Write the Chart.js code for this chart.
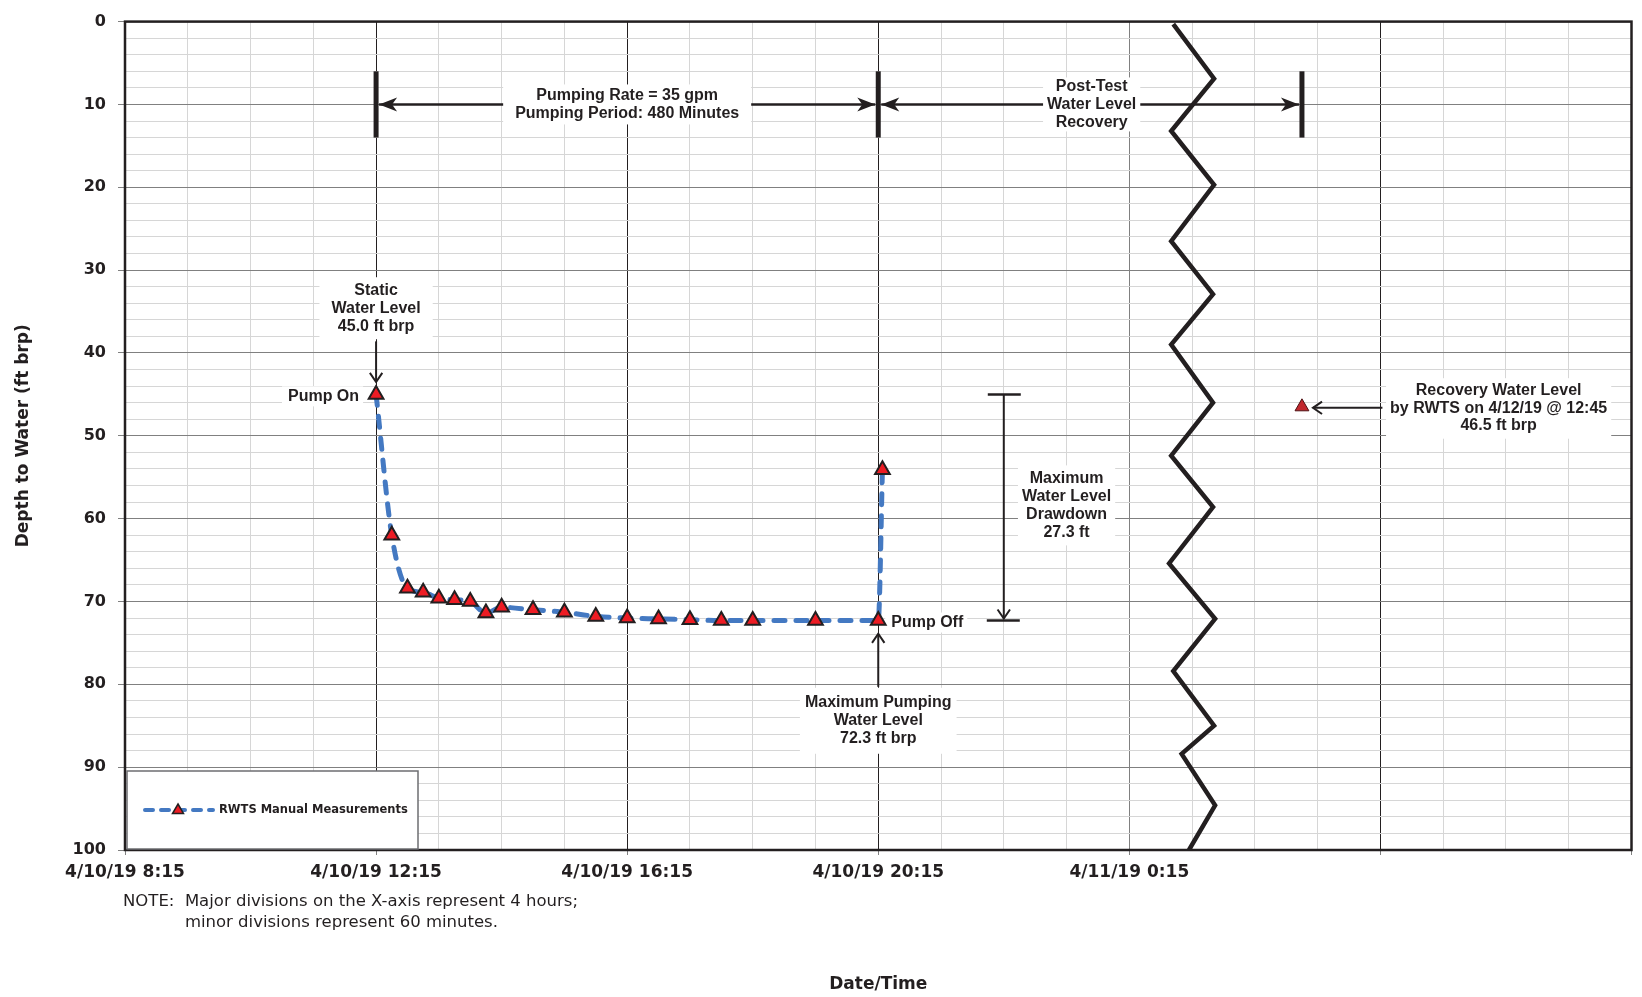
<!DOCTYPE html>
<html>
<head>
<meta charset="utf-8">
<script src="https://cdn.jsdelivr.net/npm/chart.js@4.4.1/dist/chart.umd.min.js"></script>
<style>
  html, body { margin: 0; padding: 0; background: #fff; }
  #wrap { width: 1642px; height: 997px; }
</style>
</head>
<body>
<div id="wrap"><canvas id="chart" width="1642" height="997"></canvas></div>
<script>
// x values are minutes after 4/10/19 8:15 (left edge of the axis)
const elapsedMin = [240, 255, 270, 285, 300, 315, 330, 345, 360, 390, 420, 450, 480, 510, 540, 570, 600, 660, 720, 724];
const depthFt = [45.0, 62.0, 68.4, 68.9, 69.6, 69.8, 70.0, 71.4, 70.7, 71.0, 71.3, 71.8, 72.0, 72.1, 72.2, 72.3, 72.3, 72.3, 72.3, 54.1];

// recovery reading, plotted past the axis break
const recoveryMin = [1125];
const recoveryDepth = [46.5];

// axis break zigzag
const breakX = [1002, 1041, 1000, 1041, 1000, 1040, 1000, 1040, 1000, 1040, 998, 1042, 1002, 1041, 1010, 1042, 1017];
const breakY = [0.3, 6.9, 13.2, 19.7, 26.5, 32.9, 39.0, 46.0, 52.4, 58.6, 65.4, 72.1, 78.4, 85.0, 88.4, 94.6, 100];

const xTickLabels = ['4/10/19 8:15', '4/10/19 12:15', '4/10/19 16:15', '4/10/19 20:15', '4/11/19 0:15'];

const INK = '#231f20';
const BLUE = '#4479c2';
const LABEL_FONT = '"Liberation Sans", Arial, sans-serif';

/**
 * Draw a centred block of bold text on a white box
 */
function textBlock(ctx, lines, cx, cy, padX, padY, size, lh) {
    lh = lh || 18;
    ctx.font = 'bold ' + (size || 16) + 'px ' + LABEL_FONT;
    const w = Math.max(...lines.map(l => ctx.measureText(l).width));
    const h = lh * lines.length;
    ctx.fillStyle = '#fff';
    ctx.fillRect(cx - w / 2 - padX, cy - h / 2 - padY, w + 2 * padX, h + 2 * padY);
    ctx.fillStyle = INK;
    ctx.textAlign = 'center';
    ctx.textBaseline = 'middle';
    lines.forEach((l, i) => ctx.fillText(l, cx, cy - h / 2 + lh * (i + 0.5)));
}

function sideLabel(ctx, text, x, cy, align) {
    ctx.font = 'bold 16px ' + LABEL_FONT;
    const w = ctx.measureText(text).width;
    const left = align === 'right' ? x - w : x;
    ctx.fillStyle = '#fff';
    ctx.fillRect(left - 6, cy - 10, w + 10, 20);
    ctx.fillStyle = INK;
    ctx.textAlign = 'left';
    ctx.textBaseline = 'middle';
    ctx.fillText(text, left, cy);
}

function line(ctx, x1, y1, x2, y2, w) {
    ctx.lineWidth = w;
    ctx.beginPath();
    ctx.moveTo(x1, y1);
    ctx.lineTo(x2, y2);
    ctx.stroke();
}

// filled head, dir = +1 points right, -1 points left
function solidHead(ctx, tipX, tipY, dir) {
    ctx.beginPath();
    ctx.moveTo(tipX, tipY);
    ctx.lineTo(tipX - dir * 18, tipY - 7);
    ctx.lineTo(tipX - dir * 13, tipY);
    ctx.lineTo(tipX - dir * 18, tipY + 7);
    ctx.closePath();
    ctx.fill();
}

// open V head, angle is the direction the arrow points
function openHead(ctx, tipX, tipY, angle) {
    const len = 11, spread = 0.6;
    ctx.lineWidth = 2;
    ctx.beginPath();
    ctx.moveTo(tipX - len * Math.cos(angle - spread), tipY - len * Math.sin(angle - spread));
    ctx.lineTo(tipX, tipY);
    ctx.lineTo(tipX - len * Math.cos(angle + spread), tipY - len * Math.sin(angle + spread));
    ctx.stroke();
}

const annotations = {
    id: 'annotations',
    beforeDatasetsDraw(chart) {
        const { ctx, scales: { x, y } } = chart;
        const X = v => x.getPixelForValue(v);
        const Y = v => y.getPixelForValue(v);
        ctx.save();
        ctx.strokeStyle = INK;
        ctx.fillStyle = INK;

        // pumping period / post-test dimension lines
        const ya = Y(10);
        line(ctx, X(240) + 3, ya, X(720) - 3, ya, 2.5);
        line(ctx, X(720) + 3, ya, X(1125) - 3, ya, 2.5);
        solidHead(ctx, X(240) + 3, ya, -1);
        solidHead(ctx, X(720) - 3, ya, 1);
        solidHead(ctx, X(720) + 3, ya, -1);
        solidHead(ctx, X(1125) - 3, ya, 1);
        [240, 720, 1125].forEach(m => line(ctx, X(m), Y(6), X(m), Y(14), 5));

        // static water level arrow
        line(ctx, X(240), Y(38.6), X(240), Y(43.5), 2);
        openHead(ctx, X(240), Y(43.5), Math.PI / 2);

        // maximum pumping water level arrow
        line(ctx, X(720), Y(80.3), X(720), Y(73.9), 2);
        openHead(ctx, X(720), Y(73.9), -Math.PI / 2);

        // drawdown bracket
        const xd = X(840);
        line(ctx, xd, Y(45), xd, Y(72.3) - 2, 2);
        line(ctx, xd - 16, Y(45), xd + 17, Y(45), 2.5);
        line(ctx, xd - 17, Y(72.3), xd + 16, Y(72.3), 2.5);
        openHead(ctx, xd, Y(72.3) - 2, Math.PI / 2);

        // recovery arrow
        const yr = Y(46.5) + 1;
        line(ctx, X(1125) + 11, yr, X(1200) + 2, yr, 2);
        openHead(ctx, X(1125) + 11, yr, Math.PI);

        textBlock(ctx, ['Pumping Rate = 35 gpm', 'Pumping Period: 480 Minutes'], X(480), Y(10), 12, 2);
        textBlock(ctx, ['Post-Test', 'Water Level', 'Recovery'], X(924), Y(10), 4, 0);
        textBlock(ctx, ['Static', 'Water Level', '45.0 ft brp'], X(240), Y(34.6), 12, 4);
        textBlock(ctx, ['Maximum Pumping', 'Water Level', '72.3 ft brp'], X(720), Y(84.4), 5, 6);
        textBlock(ctx, ['Maximum', 'Water Level', 'Drawdown', '27.3 ft'], X(900), Y(58.4), 4, 4);
        textBlock(ctx, ['Recovery Water Level', 'by RWTS on 4/12/19 @ 12:45', '46.5 ft brp'], X(1313), Y(46.7), 4, 4, 16, 17.5);
        sideLabel(ctx, 'Pump On', X(240) - 17, Y(45) + 2, 'right');
        sideLabel(ctx, 'Pump Off', X(720) + 13, Y(72.3) + 2, 'left');
        ctx.restore();
    },
    afterDraw(chart) {
        const { ctx, chartArea: a } = chart;
        ctx.save();

        // plot frame
        ctx.strokeStyle = INK;
        ctx.lineWidth = 2.5;
        ctx.strokeRect(a.left, a.top, a.right - a.left, a.bottom - a.top);

        // legend box
        const lx = a.left + 2, ly = a.bottom - 79;
        ctx.fillStyle = '#fff';
        ctx.fillRect(lx, ly, 291, 78);
        ctx.strokeStyle = '#6d6e71';
        ctx.lineWidth = 1.5;
        ctx.strokeRect(lx, ly, 291, 78);
        const sy = a.bottom - 40;
        ctx.strokeStyle = BLUE;
        ctx.lineCap = 'round';
        ctx.setLineDash([8, 8]);
        line(ctx, a.left + 20, sy, a.left + 88, sy, 4);
        ctx.setLineDash([]);
        ctx.lineCap = 'butt';
        const tx = a.left + 53;
        ctx.beginPath();
        ctx.moveTo(tx, sy - 6);
        ctx.lineTo(tx + 5.5, sy + 3.5);
        ctx.lineTo(tx - 5.5, sy + 3.5);
        ctx.closePath();
        ctx.fillStyle = '#ed1c24';
        ctx.fill();
        ctx.strokeStyle = INK;
        ctx.lineWidth = 1.5;
        ctx.stroke();
        ctx.fillStyle = INK;
        ctx.font = 'bold 11.5px "DejaVu Sans"';
        ctx.textAlign = 'left';
        ctx.textBaseline = 'middle';
        ctx.fillText('RWTS Manual Measurements', a.left + 94, sy);

        // note under the axis
        ctx.font = '16.5px "DejaVu Sans"';
        ctx.textBaseline = 'alphabetic';
        const prefix = 'NOTE:  ';
        const nx = a.left - 2;
        ctx.fillText(prefix + 'Major divisions on the X-axis represent 4 hours;', nx, a.bottom + 56);
        ctx.fillText('minor divisions represent 60 minutes.', nx + ctx.measureText(prefix).width, a.bottom + 77);
        ctx.restore();
    }
};

const xGridColor = c => {
    const v = c.tick ? c.tick.value : 0;
    if (v % 240 !== 0) return '#d6d6d6';
    return v === 960 ? '#808080' : INK;
};
const yGridColor = c => (c.tick && Math.round(c.tick.value) % 10 === 0 ? '#808080' : '#d6d6d6');

new Chart(document.getElementById('chart'), {
    type: 'line',
    data: {
        datasets: [
            {
                label: 'axis break',
                data: breakX.map((v, i) => ({ x: v, y: breakY[i] })),
                borderColor: INK,
                borderWidth: 4.5,
                borderJoinStyle: 'miter',
                pointRadius: 0,
                tension: 0
            },
            {
                label: 'RWTS Manual Measurements',
                data: elapsedMin.map((v, i) => ({ x: v, y: depthFt[i] })),
                borderColor: BLUE,
                borderWidth: 5,
                borderDash: [11, 11],
                borderCapStyle: 'round',
                cubicInterpolationMode: 'monotone',
                pointStyle: 'triangle',
                pointRadius: 8.5,
                pointBackgroundColor: '#ed1c24',
                pointBorderColor: INK,
                pointBorderWidth: 2
            },
            {
                label: 'Recovery',
                data: recoveryMin.map((v, i) => ({ x: v, y: recoveryDepth[i] })),
                showLine: false,
                pointStyle: 'triangle',
                pointRadius: 8,
                pointBackgroundColor: '#c1272d',
                pointBorderColor: '#4d1214',
                pointBorderWidth: 1
            }
        ]
    },
    options: {
        responsive: false,
        animation: false,
        devicePixelRatio: 1,
        layout: { padding: { top: 18, right: 6, bottom: 0, left: 0 } },
        plugins: {
            legend: { display: false },
            tooltip: { enabled: false }
        },
        scales: {
            x: {
                type: 'linear',
                min: 0,
                max: 1440,
                border: { display: false },
                grid: {
                    color: xGridColor,
                    lineWidth: 1,
                    tickLength: 5,
                    tickColor: c => (c.tick && c.tick.value % 240 === 0 ? '#808080' : 'rgba(0,0,0,0)')
                },
                ticks: {
                    stepSize: 60,
                    autoSkip: false,
                    maxRotation: 0,
                    padding: 7,
                    color: INK,
                    font: { family: 'DejaVu Sans', weight: 'bold', size: 17 },
                    callback: v => (v % 240 === 0 ? (xTickLabels[v / 240] || '') : '')
                },
                title: {
                    display: true,
                    text: 'Date/Time',
                    color: INK,
                    font: { family: 'DejaVu Sans', weight: 'bold', size: 17 },
                    padding: { top: 0, bottom: 2 }
                },
                afterFit: s => { s.height = 147; }
            },
            y: {
                type: 'linear',
                reverse: true,
                min: 0,
                max: 100,
                border: { display: false },
                grid: {
                    color: yGridColor,
                    lineWidth: 1,
                    tickLength: 7,
                    tickColor: c => (c.tick && Math.round(c.tick.value) % 10 === 0 ? '#808080' : 'rgba(0,0,0,0)')
                },
                ticks: {
                    stepSize: 2,
                    autoSkip: false,
                    padding: 12,
                    color: INK,
                    font: { family: 'DejaVu Sans', weight: 'bold', size: 16 },
                    callback: v => (Math.round(v) % 10 === 0 ? String(Math.round(v)) : '')
                },
                title: {
                    display: true,
                    text: 'Depth to Water (ft brp)',
                    color: INK,
                    font: { family: 'DejaVu Sans', weight: 'bold', size: 17 },
                    padding: { top: 13, bottom: 0 }
                },
                afterFit: s => { s.width = 125; }
            }
        }
    },
    plugins: [annotations]
});
</script>
</body>
</html>
